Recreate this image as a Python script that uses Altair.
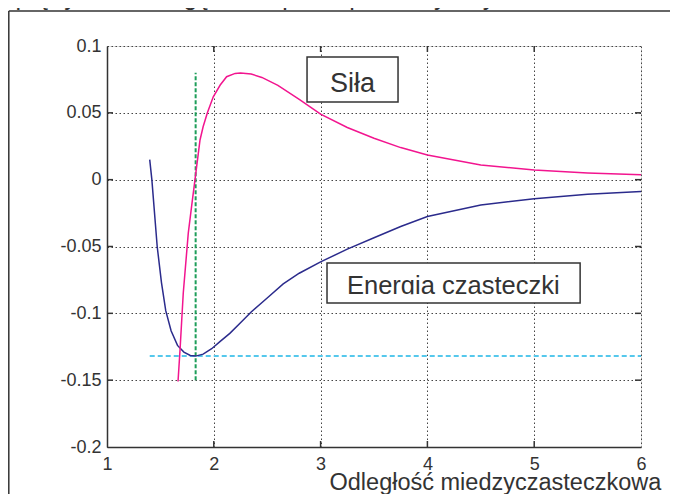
import altair as alt
import pandas as pd

# ---- data ----
energy_x = [1.40, 1.42, 1.47, 1.51, 1.55, 1.60, 1.66, 1.72, 1.78, 1.83, 1.90, 1.98,
            2.06, 2.15, 2.25, 2.35, 2.50, 2.65, 2.80, 3.00, 3.25, 3.50, 3.75, 4.00,
            4.50, 5.00, 5.50, 6.00]
energy_y = [0.015, 0.000, -0.050, -0.077, -0.098, -0.113, -0.124, -0.129, -0.1315, -0.132,
            -0.1305, -0.1265, -0.121, -0.115, -0.107, -0.099, -0.0885, -0.078, -0.070,
            -0.0615, -0.052, -0.0435, -0.035, -0.0275, -0.019, -0.0142, -0.011, -0.0088]

force_x = [1.665, 1.684, 1.714, 1.761, 1.80, 1.824, 1.871, 1.90, 1.94, 1.995, 2.06, 2.12,
           2.20, 2.25, 2.35, 2.45, 2.60, 2.80, 3.00, 3.25, 3.50, 3.75, 4.00, 4.50, 5.00,
           5.50, 6.00]
force_y = [-0.151, -0.127, -0.085, -0.040, -0.015, 0.000, 0.0297, 0.0396, 0.050, 0.062,
           0.0708, 0.077, 0.0795, 0.0798, 0.079, 0.0765, 0.0705, 0.060, 0.049, 0.039,
           0.031, 0.024, 0.0185, 0.011, 0.0072, 0.005, 0.0036]

r_eq = 1.83          # green dashed vertical line
e_min = -0.132       # cyan dashed horizontal line
hline_x = [1.40, 6.0]
vline_y = [-0.15, 0.08]

x_ticks = [1, 2, 3, 4, 5, 6]
y_ticks = [-0.2, -0.15, -0.1, -0.05, 0, 0.05, 0.1]
x_inner = [2, 3, 4, 5]
y_inner = [-0.15, -0.1, -0.05, 0, 0.05]

sila_box = [2.873, 3.725, 0.0581, 0.0918]
sila_text = ["Siła"]
sila_pos = [3.298, 0.0716]
energia_box = [3.06, 5.43, -0.0923, -0.0623]
energia_text = ["Energia czasteczki"]
energia_pos = [3.247, -0.0855]

x_title = "Odległość miedzyczasteczkowa"
top_line = "sprężystości E i gęstości ρ. Na poniższym rysunku"

FONT = "Liberation Sans"
INK = "#333333"
W, H = 534, 401

xscale = alt.Scale(domain=[1, 6], nice=False, zero=False)
yscale = alt.Scale(domain=[-0.2, 0.1], nice=False, zero=False)

xaxis = alt.Axis(values=x_ticks, format="d", title=x_title, labelFontSize=18, labelFont=FONT,
                 labelColor=INK, labelPadding=8, ticks=False, grid=True,
                 gridDash=[1.5, 2.5], gridColor="#444444", gridWidth=1,
                 domainColor=INK, domainWidth=1.5, labelFlush=False,
                 titleFont=FONT, titleFontSize=23.5, titleFontWeight="normal", titleColor=INK,
                 titleAnchor="start", titleAlign="left", titleBaseline="alphabetic",
                 titleX=222, titleY=42)
yaxis = alt.Axis(values=y_ticks, labelExpr="'' + datum.value", title=None, labelFontSize=18,
                 labelFont=FONT, labelColor=INK, labelPadding=6, ticks=False, grid=True,
                 gridDash=[1.5, 2.5], gridColor="#444444", gridWidth=1,
                 domainColor=INK, domainWidth=1.5, labelFlush=False)


def X(field):
    return alt.X(field, type="quantitative", scale=xscale, axis=xaxis)


def Y(field):
    return alt.Y(field, type="quantitative", scale=yscale, axis=yaxis)


energy_df = pd.DataFrame({"x": energy_x, "y": energy_y})
force_df = pd.DataFrame({"x": force_x, "y": force_y})

energy = alt.Chart(energy_df).mark_line(color="#2b2b8c", strokeWidth=1.5).encode(
    x=X("x"), y=Y("y"), order="x:Q")
force = alt.Chart(force_df).mark_line(color="#f2158f", strokeWidth=1.5).encode(
    x=X("x"), y=Y("y"), order="x:Q")

hline = alt.Chart(pd.DataFrame({"x": [hline_x[0]], "x2": [hline_x[1]], "y": [e_min]})).mark_rule(
    color="#55c8ec", strokeWidth=2, strokeDash=[5, 3]).encode(x=X("x"), x2="x2:Q", y=Y("y"))
vline = alt.Chart(pd.DataFrame({"x": [r_eq], "y": [vline_y[0]], "y2": [vline_y[1]]})).mark_rule(
    color="#1e9e5a", strokeWidth=2, strokeDash=[4, 2]).encode(x=X("x"), y=Y("y"), y2="y2:Q")

# inward (MATLAB-style) tick marks on all four sides
xt = pd.DataFrame({"x": x_inner})
yt = pd.DataFrame({"y": y_inner})
tick_style = dict(color=INK, strokeWidth=1.5)
t_bottom = alt.Chart(xt).mark_rule(**tick_style).encode(x=X("x"), y=alt.value(H), y2=alt.value(H - 6))
t_top = alt.Chart(xt).mark_rule(**tick_style).encode(x=X("x"), y=alt.value(0), y2=alt.value(6))
t_left = alt.Chart(yt).mark_rule(**tick_style).encode(y=Y("y"), x=alt.value(0), x2=alt.value(6))
t_right = alt.Chart(yt).mark_rule(**tick_style).encode(y=Y("y"), x=alt.value(W), x2=alt.value(W - 6))

# annotation boxes
sila_rect = alt.Chart(pd.DataFrame({"x": [sila_box[0]], "x2": [sila_box[1]],
                                    "y": [sila_box[2]], "y2": [sila_box[3]]})).mark_rect(
    fill="white", stroke=INK, strokeWidth=1.5).encode(x=X("x"), x2="x2:Q", y=Y("y"), y2="y2:Q")
sila_lbl = alt.Chart(pd.DataFrame({"x": [sila_pos[0]], "y": [sila_pos[1]], "t": sila_text})).mark_text(
    font=FONT, fontSize=27, color=INK, align="center", baseline="middle").encode(
    x=X("x"), y=Y("y"), text="t:N")

en_rect = alt.Chart(pd.DataFrame({"x": [energia_box[0]], "x2": [energia_box[1]],
                                  "y": [energia_box[2]], "y2": [energia_box[3]]})).mark_rect(
    fill="white", stroke=INK, strokeWidth=1.5).encode(x=X("x"), x2="x2:Q", y=Y("y"), y2="y2:Q")
en_lbl = alt.Chart(pd.DataFrame({"x": [energia_pos[0]], "y": [energia_pos[1]], "t": energia_text})).mark_text(
    font=FONT, fontSize=25.5, color=INK, align="left", baseline="alphabetic").encode(
    x=X("x"), y=Y("y"), text="t:N")
# white strip that hides the clipped descenders, as in the scanned figure
en_clip = alt.Chart(pd.DataFrame({"x": [energia_box[0] + 0.01], "x2": [energia_box[1] - 0.01],
                                  "y": [energia_box[2] + 0.0008], "y2": [energia_pos[1] - 0.0002]})).mark_rect(
    fill="white", stroke=None).encode(x=X("x"), x2="x2:Q", y=Y("y"), y2="y2:Q")

# page frame and cut-off line of text above the figure
one = pd.DataFrame({"a": [0]})
frame_v = alt.Chart(one).mark_rule(color=INK, strokeWidth=1.5).encode(
    x=alt.value(-98.2), y=alt.value(-35), y2=alt.value(470))
frame_h = alt.Chart(one).mark_rule(color=INK, strokeWidth=1.5).encode(
    x=alt.value(-98.2), x2=alt.value(600), y=alt.value(-35))
top_txt = alt.Chart(pd.DataFrame({"t": [top_line]})).mark_text(
    font=FONT, fontSize=25, color=INK, align="left", baseline="alphabetic").encode(
    x=alt.value(-104), y=alt.value(-41), text="t:N")

chart = alt.layer(
    hline, vline, energy, force, sila_rect, sila_lbl, en_rect, en_lbl, en_clip,
    t_bottom, t_top, t_left, t_right, frame_v, frame_h, top_txt
).properties(
    width=W, height=H,
    autosize=alt.AutoSizeParams(type="none"),
    padding={"left": 99, "top": 38, "right": 29, "bottom": 47},
).configure_view(stroke=INK, strokeWidth=1.5).configure(background="white")

chart.save("out.html", embed_options={"renderer": "svg", "actions": False})
